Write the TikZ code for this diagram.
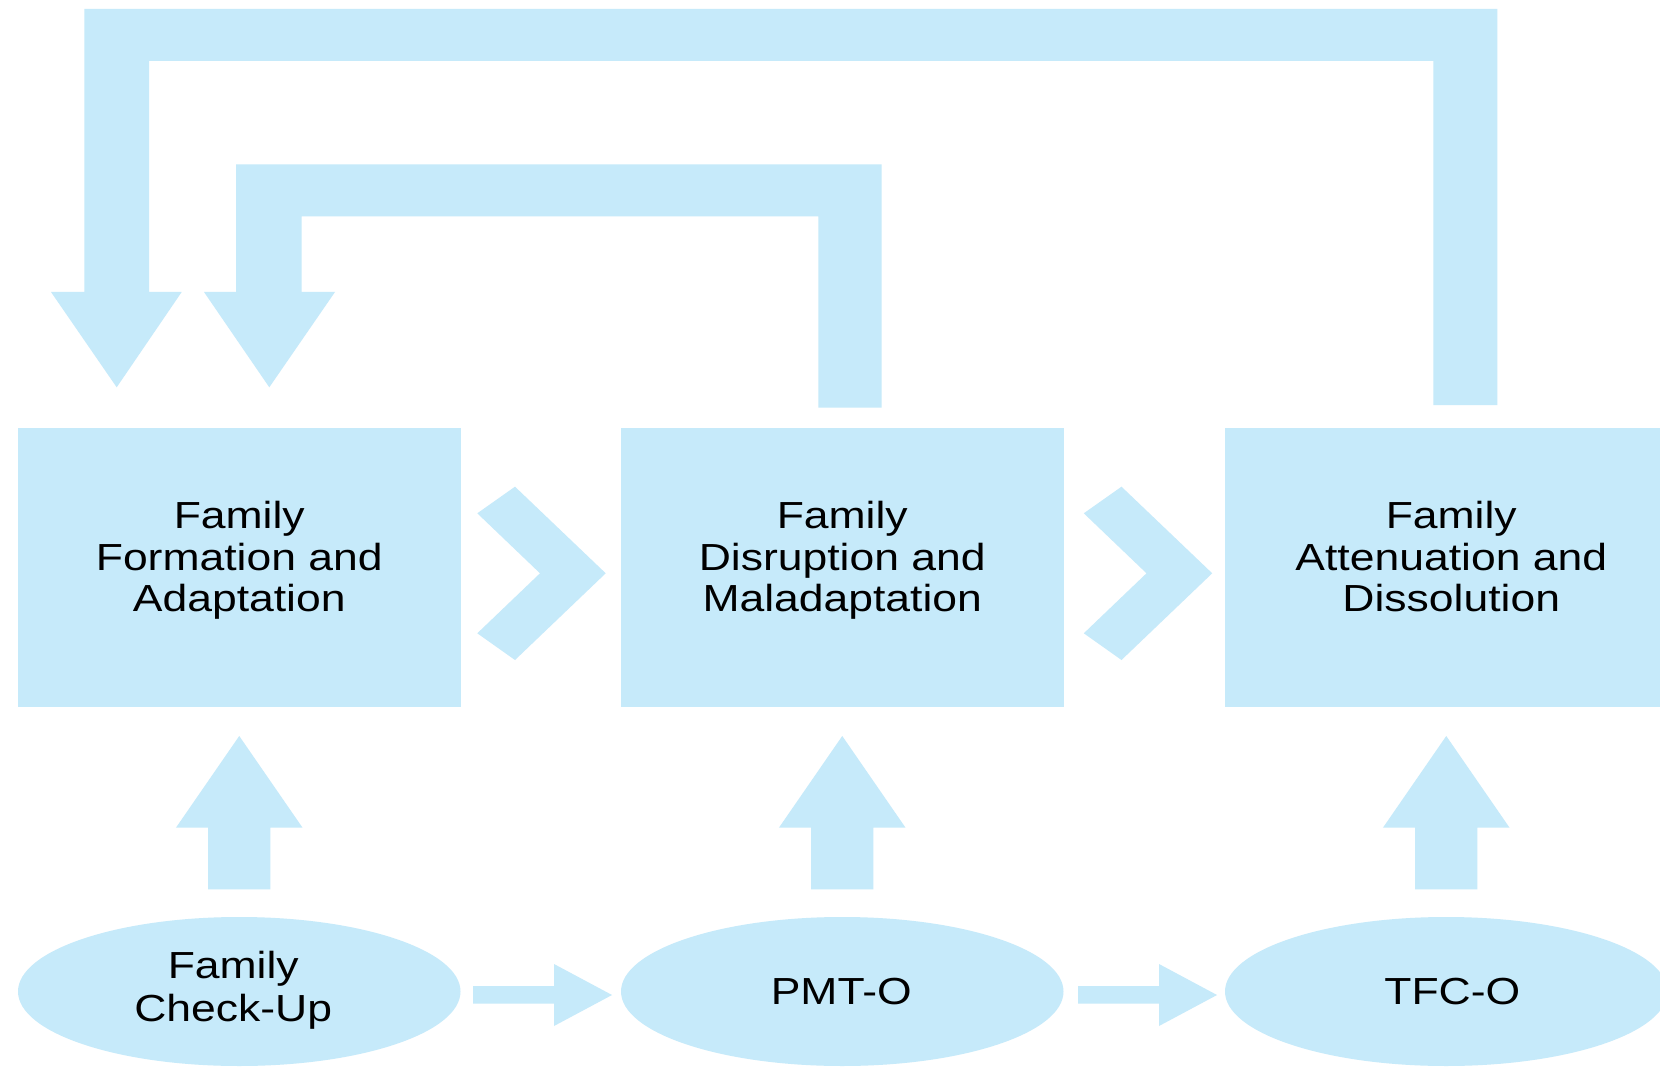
\documentclass[tikz,border=0pt]{standalone}
\usepackage{fontspec}
\newfontfamily\labfont[FakeStretch=1.18]{Liberation Sans}
\usetikzlibrary{shapes.geometric,calc}
\definecolor{paleblue}{RGB}{198,234,250}
\begin{document}
\begin{tikzpicture}[x=1pt,y=-1pt,
  fatshape/.style={fill=paleblue,draw=none},
  stagebox/.style={rectangle,fill=paleblue,draw=none,minimum width=442.5pt,minimum height=279pt,inner sep=0pt,outer sep=0pt},
  stagetext/.style={font={\labfont\fontsize{37.7}{41.5}\selectfont},align=center,inner sep=0pt,text depth=8pt},
  program/.style={ellipse,fill=paleblue,draw=none,minimum width=442.5pt,minimum height=149pt,inner sep=0pt,outer sep=0pt},
  progtext/.style={font={\labfont\fontsize{37.7}{43}\selectfont},align=center,inner sep=0pt},
]
\useasboundingbox (0,0) rectangle (1660,1067);
\fill[white] (0,0) rectangle (1660,1067);

% stage boxes
\node[stagebox] (b1) at (239.25,567.5) {};
\node[stagebox] (b2) at (842.25,567.5) {};
\node[stagebox] (b3) at (1446.25,567.5) {};
\node[stagetext] (t1) at ($(b1.center)+(0,-7)$) {Family\\Formation and\\Adaptation};
\node[stagetext] (t2) at ($(b2.center)+(0,-7)$) {Family\\Disruption and\\Maladaptation};
\node[stagetext] (t3) at ($(b3.center)+(5,-7)$) {Family\\Attenuation and\\Dissolution};

% programs
\node[program] (e1) at (239.25,991.5) {};
\node[program] (e2) at (842.25,991.5) {};
\node[program] (e3) at (1446.25,991.5) {};
\node[progtext,text depth=8pt] (p1) at ($(e1.center)+(-6,-1)$) {Family\\Check-Up};
\node[progtext] (p2) at ($(e2.center)+(-1,0)$) {PMT-O};
\node[progtext] (p3) at ($(e3.center)+(6,0)$) {TFC-O};

% chevrons between boxes
\fill[fatshape] ($(b1.east)+(16.8,-54.2)$) -- ++(37.7,-26.6) -- ++(90.7,86.6) -- ++(-90.7,86.7) -- ++(-37.7,-26.7) -- ++(62.7,-60) -- cycle;
\fill[fatshape] ($(b2.east)+(20.3,-54.2)$) -- ++(37.7,-26.6) -- ++(90.7,86.6) -- ++(-90.7,86.7) -- ++(-37.7,-26.7) -- ++(62.7,-60) -- cycle;

% up arrows from programs to boxes
\foreach \b in {b1,b2,b3}{
  \fill[fatshape] ($(\b.south)+(0,29)$) -- ++(63.3,91.7) -- ++(-32.1,0) -- ++(0,61.6) -- ++(-62.4,0) -- ++(0,-61.6) -- ++(-32.1,0) -- cycle;
}

% right arrows between programs
\fill[fatshape] ($(e1.east)+(12.5,-5.5)$) -- ++(81,0) -- ++(0,-22) -- ++(58,31) -- ++(-58,31) -- ++(0,-22.5) -- ++(-81,0) -- cycle;
\fill[fatshape] ($(e2.east)+(14.5,-5.5)$) -- ++(81,0) -- ++(0,-22) -- ++(58,31) -- ++(-58,31) -- ++(0,-22.5) -- ++(-81,0) -- cycle;

% feedback loop from box 3 to box 1
\fill[fatshape] (1433.3,405) -- (1497.3,405) -- (1497.3,9) -- (84.3,9) -- (84.3,292) -- (51,292) -- (116.7,387.3) -- (181.7,292) -- (149,292) -- (149,61) -- (1433.3,61) -- cycle;
% feedback loop from box 2 to box 1
\fill[fatshape] (818.3,407.7) -- (881.7,407.7) -- (881.7,164.3) -- (236,164.3) -- (236,292) -- (204,292) -- (269.3,387.3) -- (335,292) -- (301.7,292) -- (301.7,216.5) -- (818.3,216.5) -- cycle;
\end{tikzpicture}
\end{document}
